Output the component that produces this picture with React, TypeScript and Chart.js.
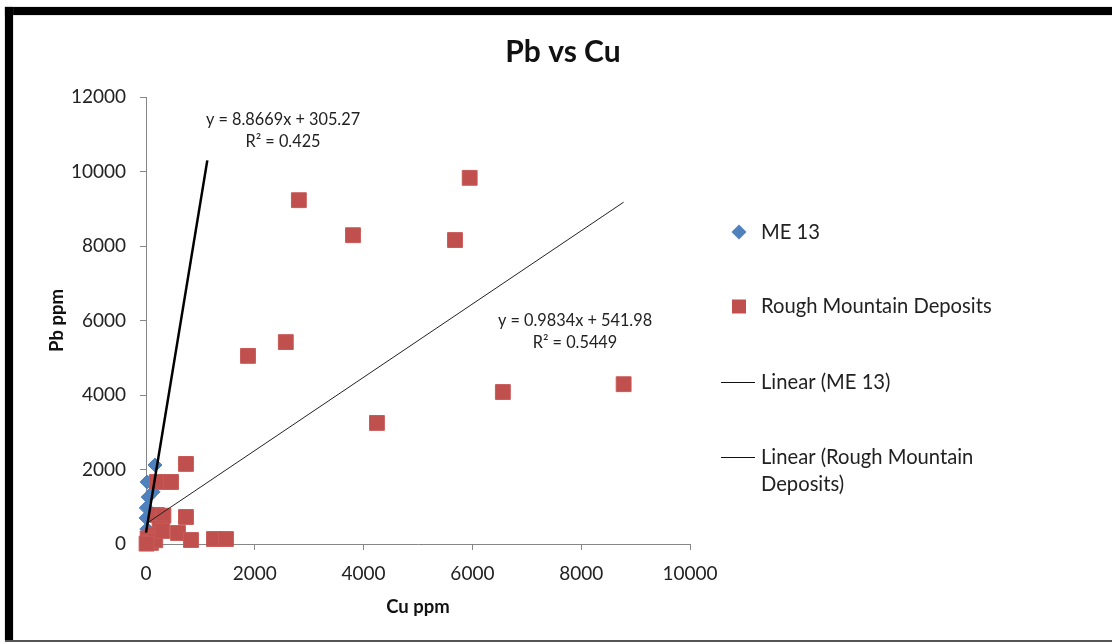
import { useEffect, useRef } from "react";
import { Chart, registerables } from "chart.js";

Chart.register(...registerables);

// ME 13 samples (Cu ppm, Pb ppm)
const me13Cu = [165, 20, 130, 40, 5, 0, 15, 35];
const me13Pb = [2120, 1665, 1400, 1260, 970, 700, 400, 180];

// Rough Mountain Deposits samples (Cu ppm, Pb ppm)
const rmdCu = [5950, 2810, 3805, 5680, 1875, 2570, 8780, 6560, 4245, 735, 200, 460, 735, 200, 320, 588, 827, 1250, 1470, 60, 120, 250, 30, 90, 170, 300, 10];
const rmdPb = [9830, 9230, 8290, 8160, 5050, 5420, 4290, 4080, 3250, 2150, 1665, 1665, 725, 780, 760, 295, 107, 134, 134, 60, 250, 420, 150, 30, 100, 350, 10];

// Linear trendlines: coefficients and x extent
const me13Slope = 8.8669;
const me13Intercept = 305.27;
const me13TrendCu = [0, 1127];
const rmdSlope = 0.9834;
const rmdIntercept = 541.98;
const rmdTrendCu = [0, 8780];

const me13Equation = ["y = 8.8669x + 305.27", "R² = 0.425"];
const rmdEquation = ["y = 0.9834x + 541.98", "R² = 0.5449"];

const legendLabels = ["ME 13", "Rough Mountain Deposits", "Linear (ME 13)", "Linear (Rough Mountain", "Deposits)"];

const xTickMax = 10000;
const yTickMax = 12000;
const tickStep = 2000;

const BLUE = "#4F81BD";
const RED = "#C0504D";
const AXIS = "#868686";
const FONT = "Lato, 'Open Sans', sans-serif";

const toPoints = (xs: number[], ys: number[]) => xs.map((x, i) => ({ x, y: ys[i] }));
const trend = (xs: number[], m: number, b: number) => xs.map((x) => ({ x, y: m * x + b }));

const annotations = {
  id: "annotations",
  afterDraw(chart: any) {
    const ctx = chart.ctx;
    const area = chart.chartArea;
    ctx.save();
    ctx.fillStyle = "#111";
    ctx.textBaseline = "middle";

    // title
    ctx.textAlign = "center";
    ctx.font = `bold 30px ${FONT}`;
    ctx.fillText("Pb vs Cu", 563, 52);

    // axis titles
    ctx.font = `bold 18.5px ${FONT}`;
    ctx.fillText("Cu ppm", (area.left + area.right) / 2, 607);
    ctx.save();
    ctx.translate(57, (area.top + area.bottom) / 2);
    ctx.rotate(-Math.PI / 2);
    ctx.fillText("Pb ppm", 0, 0);
    ctx.restore();

    // trendline equations
    ctx.font = `16.3px ${FONT}`;
    ctx.fillStyle = "#222";
    ctx.fillText(me13Equation[0], 283, 120);
    ctx.fillText(me13Equation[1], 283, 142);
    ctx.fillText(rmdEquation[0], 575, 321);
    ctx.fillText(rmdEquation[1], 575, 343);

    // legend
    ctx.fillStyle = BLUE;
    ctx.beginPath();
    ctx.moveTo(739, 224.5);
    ctx.lineTo(746.5, 232);
    ctx.lineTo(739, 239.5);
    ctx.lineTo(731.5, 232);
    ctx.closePath();
    ctx.fill();
    ctx.fillStyle = RED;
    ctx.fillRect(732, 299.5, 14, 14);
    ctx.strokeStyle = "#111";
    ctx.lineWidth = 1;
    ctx.beginPath();
    ctx.moveTo(721, 382.5);
    ctx.lineTo(755, 382.5);
    ctx.moveTo(721, 457.5);
    ctx.lineTo(755, 457.5);
    ctx.stroke();

    ctx.textAlign = "left";
    ctx.fillStyle = "#222";
    ctx.font = `20.2px ${FONT}`;
    ctx.fillText(legendLabels[0], 761, 232);
    ctx.fillText(legendLabels[1], 761, 306);
    ctx.fillText(legendLabels[2], 761, 382);
    ctx.fillText(legendLabels[3], 761, 457);
    ctx.fillText(legendLabels[4], 761, 484);
    ctx.restore();
  },
};

const plainTick = (v: any) => String(v);

export default function App() {
  const canvasRef = useRef<HTMLCanvasElement | null>(null);

  useEffect(() => {
    if (!canvasRef.current) return;
    const chart = new Chart(canvasRef.current, {
      type: "scatter",
      data: {
        datasets: [
          {
            label: "Linear (ME 13)",
            data: trend(me13TrendCu, me13Slope, me13Intercept),
            showLine: true,
            borderColor: "#000",
            borderWidth: 2.5,
            pointRadius: 0,
            clip: false,
            order: 0,
          },
          {
            label: "Linear (Rough Mountain Deposits)",
            data: trend(rmdTrendCu, rmdSlope, rmdIntercept),
            showLine: true,
            borderColor: "#222",
            borderWidth: 1,
            pointRadius: 0,
            clip: false,
            order: 1,
          },
          {
            label: "Rough Mountain Deposits",
            data: toPoints(rmdCu, rmdPb),
            pointStyle: "rect",
            pointRadius: 10.5,
            backgroundColor: RED,
            borderColor: "#C85A57",
            borderWidth: 1,
            clip: false,
            order: 2,
          },
          {
            label: "ME 13",
            data: toPoints(me13Cu, me13Pb),
            pointStyle: "rectRot",
            pointRadius: 7,
            backgroundColor: BLUE,
            borderColor: BLUE,
            borderWidth: 1,
            clip: false,
            order: 3,
          },
        ],
      },
      options: {
        animation: false,
        responsive: false,
        devicePixelRatio: 1,
        layout: { padding: { top: 97, right: 422, left: 0, bottom: 0 } },
        plugins: { legend: { display: false }, tooltip: { enabled: false }, title: { display: false } },
        scales: {
          x: {
            type: "linear",
            min: 0,
            max: xTickMax,
            afterFit: (s: any) => {
              s.height = 100;
            },
            ticks: { stepSize: tickStep, padding: 12, color: "#222", font: { family: FONT, size: 19 }, callback: plainTick },
            grid: { drawOnChartArea: false, drawTicks: true, tickLength: 6, color: AXIS },
            border: { color: AXIS, width: 1 },
          },
          y: {
            type: "linear",
            min: 0,
            max: yTickMax,
            afterFit: (s: any) => {
              s.width = 146;
            },
            ticks: { stepSize: tickStep, padding: 14, color: "#222", font: { family: FONT, size: 19 }, callback: plainTick },
            grid: { drawOnChartArea: false, drawTicks: true, tickLength: 6, color: AXIS },
            border: { color: AXIS, width: 1 },
          },
        },
      },
      plugins: [annotations],
    });
    return () => chart.destroy();
  }, []);

  return (
    <div style={{ position: "absolute", left: 0, top: 0, width: 1112, height: 644, background: "#fff", overflow: "hidden" }}>
      <canvas ref={canvasRef} width={1112} height={644} style={{ position: "absolute", left: 0, top: 0 }} />
      <div style={{ position: "absolute", left: 5, top: 7, width: 1107, height: 8, background: "#000", boxShadow: "0 0 1px #777" }} />
      <div style={{ position: "absolute", left: 5, top: 7, width: 8, height: 634, background: "#000", boxShadow: "0 0 1px #777" }} />
      <div style={{ position: "absolute", left: 5, top: 640, width: 1107, height: 2, background: "#555" }} />
    </div>
  );
}
